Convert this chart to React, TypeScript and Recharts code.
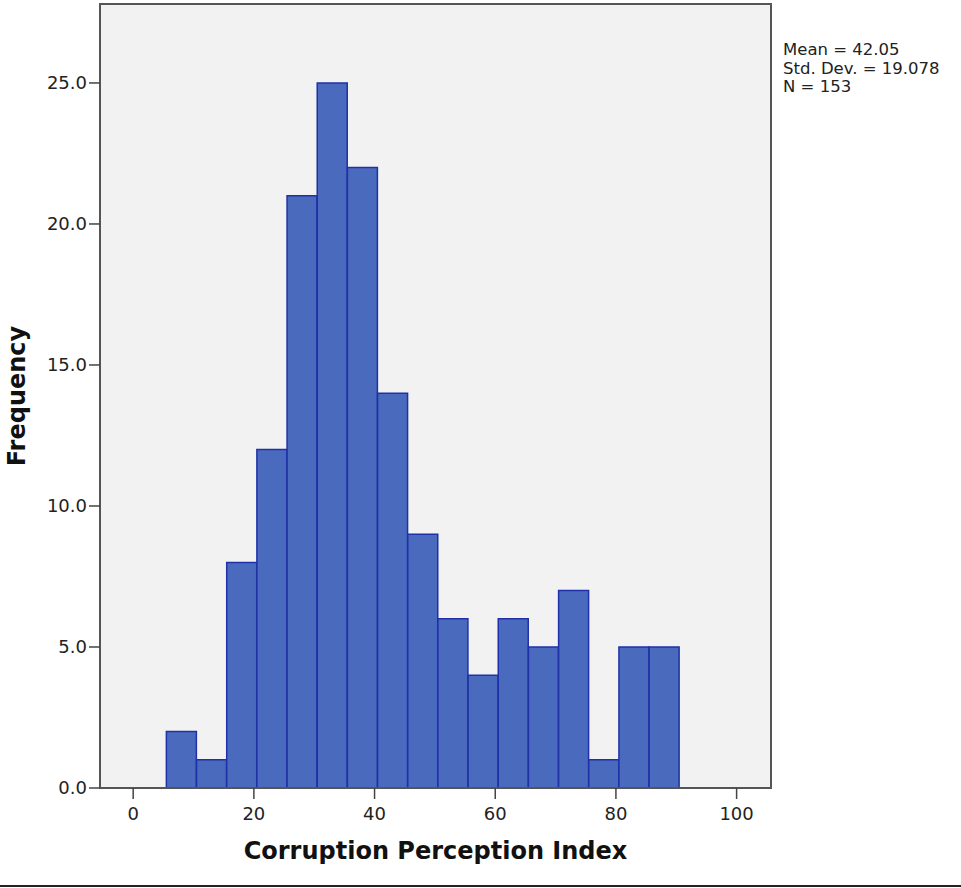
import React from 'react';
import { BarChart, Bar, XAxis, YAxis, CartesianGrid, ReferenceArea, Customized } from 'recharts';

// Histogram bins (midpoints, width 5) and their frequencies
const binMids = [8, 13, 18, 23, 28, 33, 38, 43, 48, 53, 58, 63, 68, 73, 78, 83, 88];
const frequencies = [2, 1, 8, 12, 21, 25, 22, 14, 9, 6, 4, 6, 5, 7, 1, 5, 5];
const xTicks = [0, 20, 40, 60, 80, 100];
const yTicks = [0, 5, 10, 15, 20, 25];
const statLines = ['Mean = 42.05', 'Std. Dev. = 19.078', 'N = 153'];
const xTitle = 'Corruption Perception Index';
const yTitle = 'Frequency';

const xDomain: [number, number] = [-5.5, 105.7];
const yDomain: [number, number] = [0, 27.8];

const data = binMids.map((m, i) => ({ mid: m, count: frequencies[i] }));

const FONT = '"DejaVu Sans", sans-serif';

const Stats = () => (
  <g>
    {statLines.map((s, i) => (
      <text key={s} x={783} y={55 + i * 18.5} fontFamily={FONT} fontSize={16.5} fill="#222">
        {s}
      </text>
    ))}
  </g>
);

const YTitle = (props: any) => {
  const vb = props.viewBox || { x: 0, y: 0, width: 0, height: 0 };
  const cx = 17;
  const cy = vb.y + vb.height / 2;
  return (
    <text
      x={cx}
      y={cy}
      transform={`rotate(-90, ${cx}, ${cy})`}
      textAnchor="middle"
      dominantBaseline="central"
      fontFamily={FONT}
      fontSize={24}
      fontWeight="bold"
      fill="#111"
    >
      {yTitle}
    </text>
  );
};

export default function App() {
  return (
    <div style={{ position: 'absolute', left: 0, top: 0, width: 961, height: 888, background: '#fff' }}>
      <BarChart
        width={961}
        height={888}
        data={data}
        margin={{ top: 4, right: 190, bottom: 0, left: 0 }}
        barCategoryGap={0}
        barGap={0}
      >
        <CartesianGrid fill="#f2f2f2" horizontal={false} vertical={false} />
        <XAxis
          type="number"
          dataKey="mid"
          domain={xDomain}
          ticks={xTicks}
          allowDataOverflow
          height={100}
          tickSize={11}
          tickMargin={8}
          axisLine={{ stroke: '#555', strokeWidth: 2 }}
          tickLine={{ stroke: '#444', strokeWidth: 1.5 }}
          tick={{ fontFamily: FONT, fontSize: 18, fill: '#222' }}
          label={{
            value: xTitle,
            position: 'insideBottom',
            offset: 29,
            style: { fontFamily: FONT, fontSize: 24, fontWeight: 'bold', fill: '#111' },
          }}
        />
        <YAxis
          type="number"
          domain={yDomain}
          ticks={yTicks}
          allowDataOverflow
          width={100}
          tickSize={11}
          tickMargin={2}
          tickFormatter={(v: number) => v.toFixed(1)}
          axisLine={{ stroke: '#555', strokeWidth: 2 }}
          tickLine={{ stroke: '#444', strokeWidth: 1.5 }}
          tick={{ fontFamily: FONT, fontSize: 18, fill: '#222' }}
          label={{ content: YTitle }}
        />
        <Bar
          dataKey="count"
          fill="#4a6bbd"
          stroke="#2030a8"
          strokeWidth={1.5}
          isAnimationActive={false}
        />
        <ReferenceArea
          x1={xDomain[0]}
          x2={xDomain[1]}
          y1={yDomain[0]}
          y2={yDomain[1]}
          fill="none"
          fillOpacity={0}
          stroke="#555"
          strokeWidth={2}
          ifOverflow="visible"
        />
        <Customized component={Stats} />
      </BarChart>
      <div style={{ position: 'absolute', left: 0, top: 885, width: 961, height: 2, background: '#222' }} />
    </div>
  );
}
